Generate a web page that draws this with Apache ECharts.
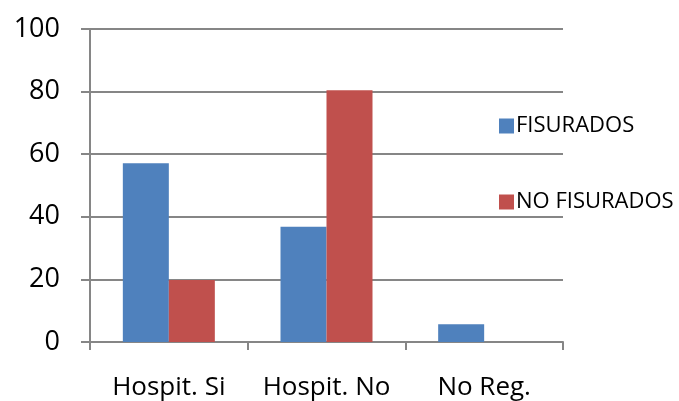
<!DOCTYPE html>
<html>
<head>
<meta charset="utf-8">
<script src="https://cdn.jsdelivr.net/npm/echarts@6/dist/echarts.min.js"></script>
<style>html,body{margin:0;padding:0;background:#fff;}#c{width:679px;height:401px;}</style>
</head>
<body>
<div id="c"></div>
<script>
var categories = ['Hospit. Si', 'Hospit. No', 'No Reg.'];
var fisurados = [57.1, 36.8, 5.7];
var noFisurados = [19.8, 80.4, 0];
var yTicks = [0, 20, 40, 60, 80, 100];

var chart = echarts.init(document.getElementById('c'));
var axisGray = '#868686';
chart.setOption({
  animation: false,
  backgroundColor: '#fff',
  grid: { left: 90, right: 116, top: 29, bottom: 59, containLabel: false },
  legend: {
    orient: 'vertical',
    left: 494,
    top: 110,
    itemWidth: 15,
    itemHeight: 15,
    itemGap: 54,
    icon: 'rect',
    textStyle: { fontFamily: 'Open Sans', fontSize: 22, color: '#000', padding: [0, 0, 0, -3] },
    data: ['FISURADOS', 'NO FISURADOS']
  },
  xAxis: {
    type: 'category',
    data: categories,
    axisLine: { lineStyle: { color: axisGray, width: 2 } },
    axisTick: { show: true, length: 8, lineStyle: { color: axisGray, width: 2 }, alignWithLabel: false },
    axisLabel: { interval: 0, fontFamily: 'Open Sans', fontSize: 26, color: '#000', margin: 33 }
  },
  yAxis: {
    type: 'value',
    min: yTicks[0],
    max: yTicks[yTicks.length - 1],
    interval: 20,
    axisLine: { show: true, lineStyle: { color: axisGray, width: 2 } },
    axisTick: { show: true, length: 9, lineStyle: { color: axisGray, width: 2 } },
    axisLabel: { fontFamily: 'Open Sans', fontSize: 27, color: '#000', margin: 30 },
    splitLine: { show: true, lineStyle: { color: axisGray, width: 2 } }
  },
  series: [
    {
      name: 'FISURADOS', type: 'bar', data: fisurados,
      barWidth: 46, barGap: '0%',
      itemStyle: { color: '#4F81BD' }
    },
    {
      name: 'NO FISURADOS', type: 'bar', data: noFisurados,
      barWidth: 46, barGap: '0%',
      itemStyle: { color: '#C0504D' }
    }
  ]
});
</script>
</body>
</html>
